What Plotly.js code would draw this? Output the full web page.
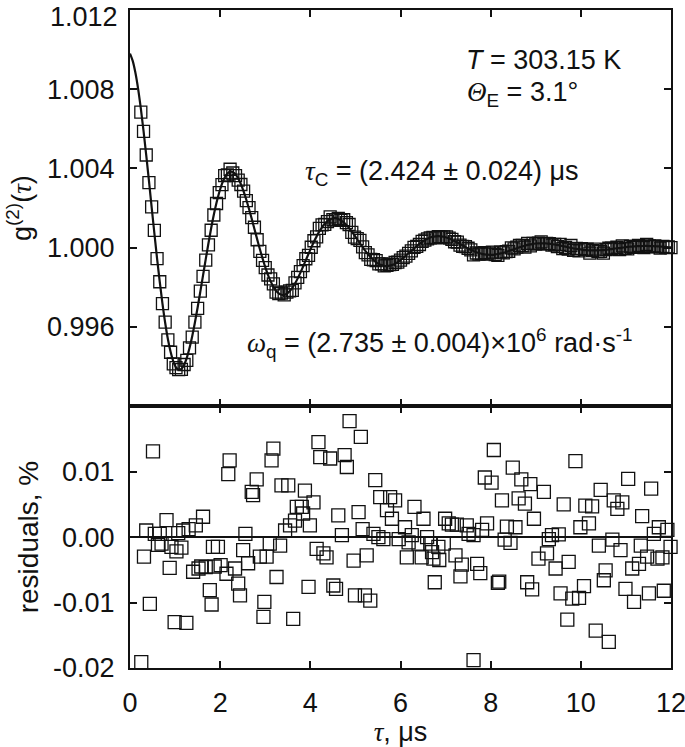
<!DOCTYPE html>
<html>
<head>
<meta charset="utf-8">
<script src="https://cdn.plot.ly/plotly-3.0.1.min.js"></script>
<style>html,body{margin:0;padding:0;background:#fff;}#chart{width:685px;height:747px;}</style>
</head>
<body>
<div id="chart"></div>
<script>
// Fit curve g2(tau), tau in microseconds
const fitTau = [
0,0.06,0.12,0.18,0.24,0.3,0.36,0.42,0.48,0.54,
0.6,0.66,0.72,0.78,0.84,0.9,0.96,1.02,1.08,1.14,
1.2,1.26,1.32,1.38,1.44,1.5,1.56,1.62,1.68,1.74,
1.8,1.86,1.92,1.98,2.04,2.1,2.16,2.22,2.28,2.34,
2.4,2.46,2.52,2.58,2.64,2.7,2.76,2.82,2.88,2.94,
3,3.06,3.12,3.18,3.24,3.3,3.36,3.42,3.48,3.54,
3.6,3.66,3.72,3.78,3.84,3.9,3.96,4.02,4.08,4.14,
4.2,4.26,4.32,4.38,4.44,4.5,4.56,4.62,4.68,4.74,
4.8,4.86,4.92,4.98,5.04,5.1,5.16,5.22,5.28,5.34,
5.4,5.46,5.52,5.58,5.64,5.7,5.76,5.82,5.88,5.94,
6,6.06,6.12,6.18,6.24,6.3,6.36,6.42,6.48,6.54,
6.6,6.66,6.72,6.78,6.84,6.9,6.96,7.02,7.08,7.14,
7.2,7.26,7.32,7.38,7.44,7.5,7.56,7.62,7.68,7.74,
7.8,7.86,7.92,7.98,8.04,8.1,8.16,8.22,8.28,8.34,
8.4,8.46,8.52,8.58,8.64,8.7,8.76,8.82,8.88,8.94,
9,9.06,9.12,9.18,9.24,9.3,9.36,9.42,9.48,9.54,
9.6,9.66,9.72,9.78,9.84,9.9,9.96,10.02,10.08,10.14,
10.2,10.26,10.32,10.38,10.44,10.5,10.56,10.62,10.68,10.74,
10.8,10.86,10.92,10.98,11.04,11.1,11.16,11.22,11.28,11.34,
11.4,11.46,11.52,11.58,11.64,11.7,11.76,11.82,11.88,11.94,
12];
const fitG = [
1.0098,1.00943,1.00883,1.00802,1.00703,1.0059,1.00467,1.00338,1.00205,1.00074,
0.99946,0.99827,0.99718,0.99621,0.99539,0.99474,0.99426,0.99396,0.99383,0.99388,
0.99409,0.99444,0.99493,0.99553,0.99622,0.99698,0.99778,0.9986,0.99942,1.00022,
1.00098,1.00167,1.00228,1.0028,1.00322,1.00354,1.00374,1.00384,1.00382,1.00371,
1.0035,1.00321,1.00284,1.00242,1.00195,1.00146,1.00094,1.00043,0.99993,0.99946,
0.99902,0.99863,0.9983,0.99803,0.99782,0.99769,0.99762,0.99761,0.99768,0.9978,
0.99797,0.99819,0.99845,0.99874,0.99905,0.99937,0.99969,1,1.0003,1.00057,
1.00082,1.00103,1.00121,1.00134,1.00143,1.00148,1.00149,1.00145,1.00138,1.00128,
1.00115,1.00099,1.00081,1.00062,1.00042,1.00022,1.00003,0.99984,0.99967,0.99951,
0.99938,0.99926,0.99918,0.99912,0.99908,0.99907,0.99909,0.99913,0.99919,0.99927,
0.99937,0.99948,0.9996,0.99972,0.99984,0.99996,1.00008,1.00019,1.00029,1.00038,
1.00045,1.00051,1.00055,1.00057,1.00058,1.00057,1.00055,1.00051,1.00046,1.0004,
1.00033,1.00026,1.00019,1.00011,1.00003,0.99996,0.99989,0.99983,0.99977,0.99973,
0.99969,0.99966,0.99965,0.99964,0.99964,0.99966,0.99968,0.99971,0.99974,0.99978,
0.99983,0.99988,0.99992,0.99997,1.00002,1.00006,1.0001,1.00014,1.00017,1.00019,
1.00021,1.00022,1.00022,1.00022,1.00021,1.0002,1.00018,1.00016,1.00014,1.00011,
1.00008,1.00005,1.00002,0.99999,0.99996,0.99994,0.99992,0.9999,0.99988,0.99987,
0.99986,0.99986,0.99986,0.99987,0.99987,0.99988,0.9999,0.99991,0.99993,0.99995,
0.99997,0.99998,1,1.00002,1.00004,1.00005,1.00006,1.00007,1.00008,1.00008,
1.00009,1.00009,1.00008,1.00008,1.00007,1.00007,1.00006,1.00005,1.00004,1.00002,
1.00001];

// Measured g2(tau) points (tau = 0.24 ... 12 us)
const dataTau = fitTau.slice(4);
const dataG = [
1.00684,1.00587,1.00468,1.00328,1.00206,1.00087,
0.99945,0.99828,0.99717,0.99624,0.99534,0.99472,0.99413,0.99394,0.99384,0.99386,
0.9941,0.99431,0.99494,0.99548,0.99624,0.99693,0.99781,0.99855,0.99937,1.00014,
1.00088,1.00165,1.00223,1.00278,1.00318,1.00364,1.00368,1.00396,1.00377,1.00364,
1.00341,1.00319,1.00285,1.00238,1.00202,1.00152,1.00103,1.0004,0.99981,0.99936,
0.99899,0.99862,0.99842,0.99817,0.99776,0.99768,0.9977,0.99762,0.99776,0.99782,
0.99784,0.99822,0.9985,0.99879,0.99909,0.99944,0.99961,1.00002,1.00035,1.00055,
1.00097,1.00115,1.00118,1.00131,1.00155,1.00141,1.00141,1.00148,1.00138,1.00141,
1.00126,1.00117,1.00077,1.00053,1.00046,1.00037,1.00004,0.99975,0.99964,0.99941,
0.99939,0.99935,0.99918,0.99918,0.99908,0.99911,0.99915,0.99916,0.99925,0.99927,
0.99937,0.9995,0.99957,0.99971,0.99984,1.00001,1.00007,1.00016,1.00032,1.00038,
1.00044,1.00049,1.00052,1.0005,1.00056,1.00053,1.00054,1.00054,1.00048,1.00042,
1.0003,1.00028,1.00013,1.00007,1.00005,0.99997,0.99989,0.99964,0.99973,0.99967,
0.9997,0.99975,0.99967,0.99972,0.99977,0.99965,0.99961,0.99977,0.99974,0.9998,
0.99982,0.99999,0.99994,1.00003,1.00011,1.00011,1.00003,1.00022,1.00009,1.00022,
1.00018,1.00023,1.00029,1.00019,1.00021,1.0002,1.00013,1.00016,1.00005,1.00016,
0.99995,1.00001,0.99993,1.00011,0.99987,0.99996,0.99984,0.99995,0.9999,0.99992,
0.99972,0.99985,0.99993,0.9998,0.99982,0.99972,0.9999,0.99997,0.99997,0.99993,
1.00002,0.9999,1.00009,0.99997,0.99994,1.00006,1.00002,1.00006,1.00011,1.00005,
1,1.00016,1.00009,1.00005,1.00009,1.00004,0.99998,1.00006,1.00002,1.00004,
1];

// Residuals, %
const resTau = [
0.25,0.31,0.36,0.44,0.51,0.55,0.62,0.66,0.70,0.81,
0.88,0.92,0.99,1.03,1.07,1.14,1.18,1.25,1.30,1.40,
1.46,1.52,1.58,1.62,1.68,1.77,1.81,1.84,1.88,1.95,
2.01,2.14,2.18,2.21,2.33,2.40,2.44,2.51,2.56,2.62,
2.70,2.73,2.81,2.88,2.96,2.98,
3.03,3.10,3.14,3.18,3.25,3.33,3.36,3.44,3.51,3.55,
3.62,3.66,3.70,3.81,3.84,3.88,3.96,3.99,4.07,4.14,
4.18,4.22,4.29,4.36,4.44,4.51,4.57,4.62,4.70,4.76,
4.81,4.87,4.96,4.99,5.07,5.12,5.16,5.21,5.25,5.33,
5.40,5.44,5.51,5.55,5.62,5.70,5.77,5.81,5.88,5.96,
6.10,6.14,6.18,6.25,6.31,6.40,6.47,6.51,6.59,6.66,
6.70,6.73,6.76,6.84,6.86,6.96,6.99,7.07,7.14,7.22,
7.25,7.33,7.36,7.47,7.51,7.62,7.62,7.70,7.77,7.81,
7.87,7.92,8.02,8.07,8.16,8.19,8.25,8.31,8.36,8.44,
8.49,8.55,8.62,8.68,8.76,8.81,8.88,8.92,8.96,
9.06,9.18,9.25,9.29,9.36,9.44,9.51,9.55,9.62,9.70,
9.73,9.81,9.88,9.96,9.99,10.07,10.10,10.18,10.25,10.33,
10.40,10.44,10.51,10.55,10.62,10.70,10.73,10.81,10.88,10.92,
10.99,11.05,11.14,11.18,11.29,11.33,11.36,11.47,11.51,11.56,
11.62,11.70,11.73,11.81,11.84,11.92,11.99];
const resVal = [
-0.0191,-0.0030,0.0010,-0.0102,0.0131,0.0005,-0.0012,0.0005,-0.0010,0.0026,
-0.0047,-0.0015,-0.0130,-0.0022,0.0006,-0.0016,0.0010,-0.0131,0.0012,-0.0053,
0.0018,-0.0048,-0.0045,0.0031,-0.0046,-0.0081,-0.0103,-0.0015,-0.0045,-0.0015,
-0.0043,-0.0056,0.0096,0.0117,-0.0048,-0.0071,-0.0089,-0.0020,0.0005,-0.0040,
0.0069,0.0064,0.0088,-0.0030,-0.0122,-0.0099,
-0.0030,-0.0010,0.0117,0.0135,-0.0061,-0.0013,0.0079,0.0010,0.0079,0.0018,
-0.0125,0.0025,0.0046,0.0046,0.0036,0.0071,-0.0076,0.0018,0.0053,-0.0018,
0.0145,0.0122,-0.0025,-0.0031,0.0120,-0.0074,-0.0079,0.0033,0.0003,0.0125,
0.0107,0.0177,-0.0036,-0.0089,0.0038,0.0153,0.0012,-0.0089,-0.0028,-0.0097,
0.0005,0.0087,0.0000,0.0061,-0.0003,0.0041,0.0061,0.0028,0.0056,-0.0003,
0.0015,-0.0031,-0.0008,0.0003,0.0046,-0.0010,-0.0031,0.0028,0.0000,-0.0010,
-0.0023,-0.0033,-0.0069,-0.0015,-0.0035,-0.0010,0.0028,0.0021,0.0019,-0.0028,
0.0019,-0.0060,-0.0042,0.0018,0.0005,0.0003,-0.0188,-0.0041,-0.0055,0.0011,
0.0091,0.0021,0.0083,0.0133,-0.0070,-0.0068,0.0056,-0.0004,0.0016,-0.0009,
0.0106,0.0015,0.0059,0.0088,0.0051,-0.0069,0.0081,-0.0080,0.0028,
-0.0033,0.0069,-0.0025,-0.0003,0.0003,-0.0048,0.0004,-0.0086,0.0050,-0.0126,
-0.0038,-0.0094,0.0116,-0.0093,0.0015,-0.0075,0.0048,0.0021,0.0047,-0.0143,
-0.0013,0.0072,-0.0066,-0.0051,-0.0160,-0.0004,0.0056,0.0043,-0.0020,0.0053,
-0.0079,0.0089,-0.0048,-0.0099,-0.0041,-0.0013,0.0032,-0.0030,-0.0086,0.0074,
0.0005,-0.0033,0.0015,-0.0031,-0.0082,0.0011,-0.0015];

// Tick labels (the top label, 1.012, sits at the very top edge and is placed as an annotation)
const xTicks = [0,2,4,6,8,10,12];
const gTickVals = [0.996,1.000,1.004,1.008,1.012];
const gTickText = ['0.996','1.000','1.004','1.008',''];
const gTopLabel = '1.012';
const rTickVals = [-0.02,-0.01,0,0.01];
const rTickText = ['-0.02','-0.01','0.00','0.01'];

const INK = '#111';
const SANS = 'Liberation Sans, Arial, Helvetica, sans-serif';
const serif = s => `<span style="font-family:'Liberation Serif','Times New Roman',serif"><i>${s}</i></span>`;

const traces = [
  {x: dataTau, y: dataG, xaxis:'x2', yaxis:'y2', type:'scatter', mode:'markers', cliponaxis:false,
   marker:{symbol:'square-open', size:12, color:INK, line:{width:1.3, color:INK}}, hoverinfo:'skip'},
  {x: fitTau, y: fitG, xaxis:'x2', yaxis:'y2', type:'scatter', mode:'lines', line:{color:INK, width:2.2, shape:'spline'}, hoverinfo:'skip'},
  {x: resTau, y: resVal, xaxis:'x', yaxis:'y', type:'scatter', mode:'markers', cliponaxis:false,
   marker:{symbol:'square-open', size:13, color:INK, line:{width:1.3, color:INK}}, hoverinfo:'skip'}
];

const axBase = {showline:true, linewidth:2, linecolor:INK, mirror:'ticks', ticks:'inside', ticklen:7, tickwidth:2, tickcolor:INK,
  showgrid:false, zeroline:false, fixedrange:true, ticklabeloverflow:'allow'};
const split = 0.398;

const layout = {
  width:685, height:747,
  margin:{l:130, r:14, t:10, b:79, pad:0},
  paper_bgcolor:'#fff', plot_bgcolor:'#fff',
  showlegend:false,
  font:{family:SANS, size:27, color:INK},
  xaxis: Object.assign({}, axBase, {domain:[0,1], range:[0,12], anchor:'y', tickmode:'array', tickvals:xTicks,
    ticklabelstandoff:10,
    title:{text: serif('τ') + ', μs', font:{size:27}, standoff:8}}),
  yaxis: Object.assign({}, axBase, {domain:[0,split], range:[-0.02,0.02], anchor:'x', tickmode:'array', tickvals:rTickVals, ticktext:rTickText,
    ticklabelstandoff:8, zeroline:true, zerolinecolor:INK, zerolinewidth:2,
    title:{text:'residuals, %', font:{size:28}, standoff:6}}),
  xaxis2: Object.assign({}, axBase, {domain:[0,1], range:[0,12], anchor:'y2', tickmode:'array', tickvals:xTicks, showticklabels:false}),
  yaxis2: Object.assign({}, axBase, {domain:[split,1], range:[0.992,1.012], anchor:'x2', tickmode:'array', tickvals:gTickVals, ticktext:gTickText,
    ticklabelstandoff:8,
    title:{text:'g<sup>(2)</sup>(' + serif('τ') + ')', font:{size:27}, standoff:8}}),
  annotations:[
    {xref:'paper', yref:'paper', x:0, y:1.0152, xanchor:'right', yanchor:'top', xshift:-10, showarrow:false,
     text: gTopLabel, font:{size:27}},
    {xref:'paper', yref:'paper', x:0.9113, y:0.924, xanchor:'right', yanchor:'middle', showarrow:false,
     text:'<i>T</i> = 303.15 K', font:{size:27}},
    {xref:'paper', yref:'paper', x:0.619, y:0.872, xanchor:'left', yanchor:'middle', showarrow:false,
     text: serif('Θ') + '<sub>E</sub> = 3.1°', font:{size:27}},
    {xref:'paper', yref:'paper', x:0.320, y:0.752, xanchor:'left', yanchor:'middle', showarrow:false,
     text: serif('τ') + '<sub>C</sub> = (2.424 ± 0.024) μs', font:{size:27}},
    {xref:'paper', yref:'paper', x:0.2126, y:0.494, xanchor:'left', yanchor:'middle', showarrow:false,
     text: serif('ω') + '<sub>q</sub> = (2.735 ± 0.004)×10<sup>6</sup> rad·s<sup>-1</sup>', font:{size:27}}
  ]
};

Plotly.newPlot('chart', traces, layout, {displayModeBar:false, staticPlot:true});
</script>
</body>
</html>
